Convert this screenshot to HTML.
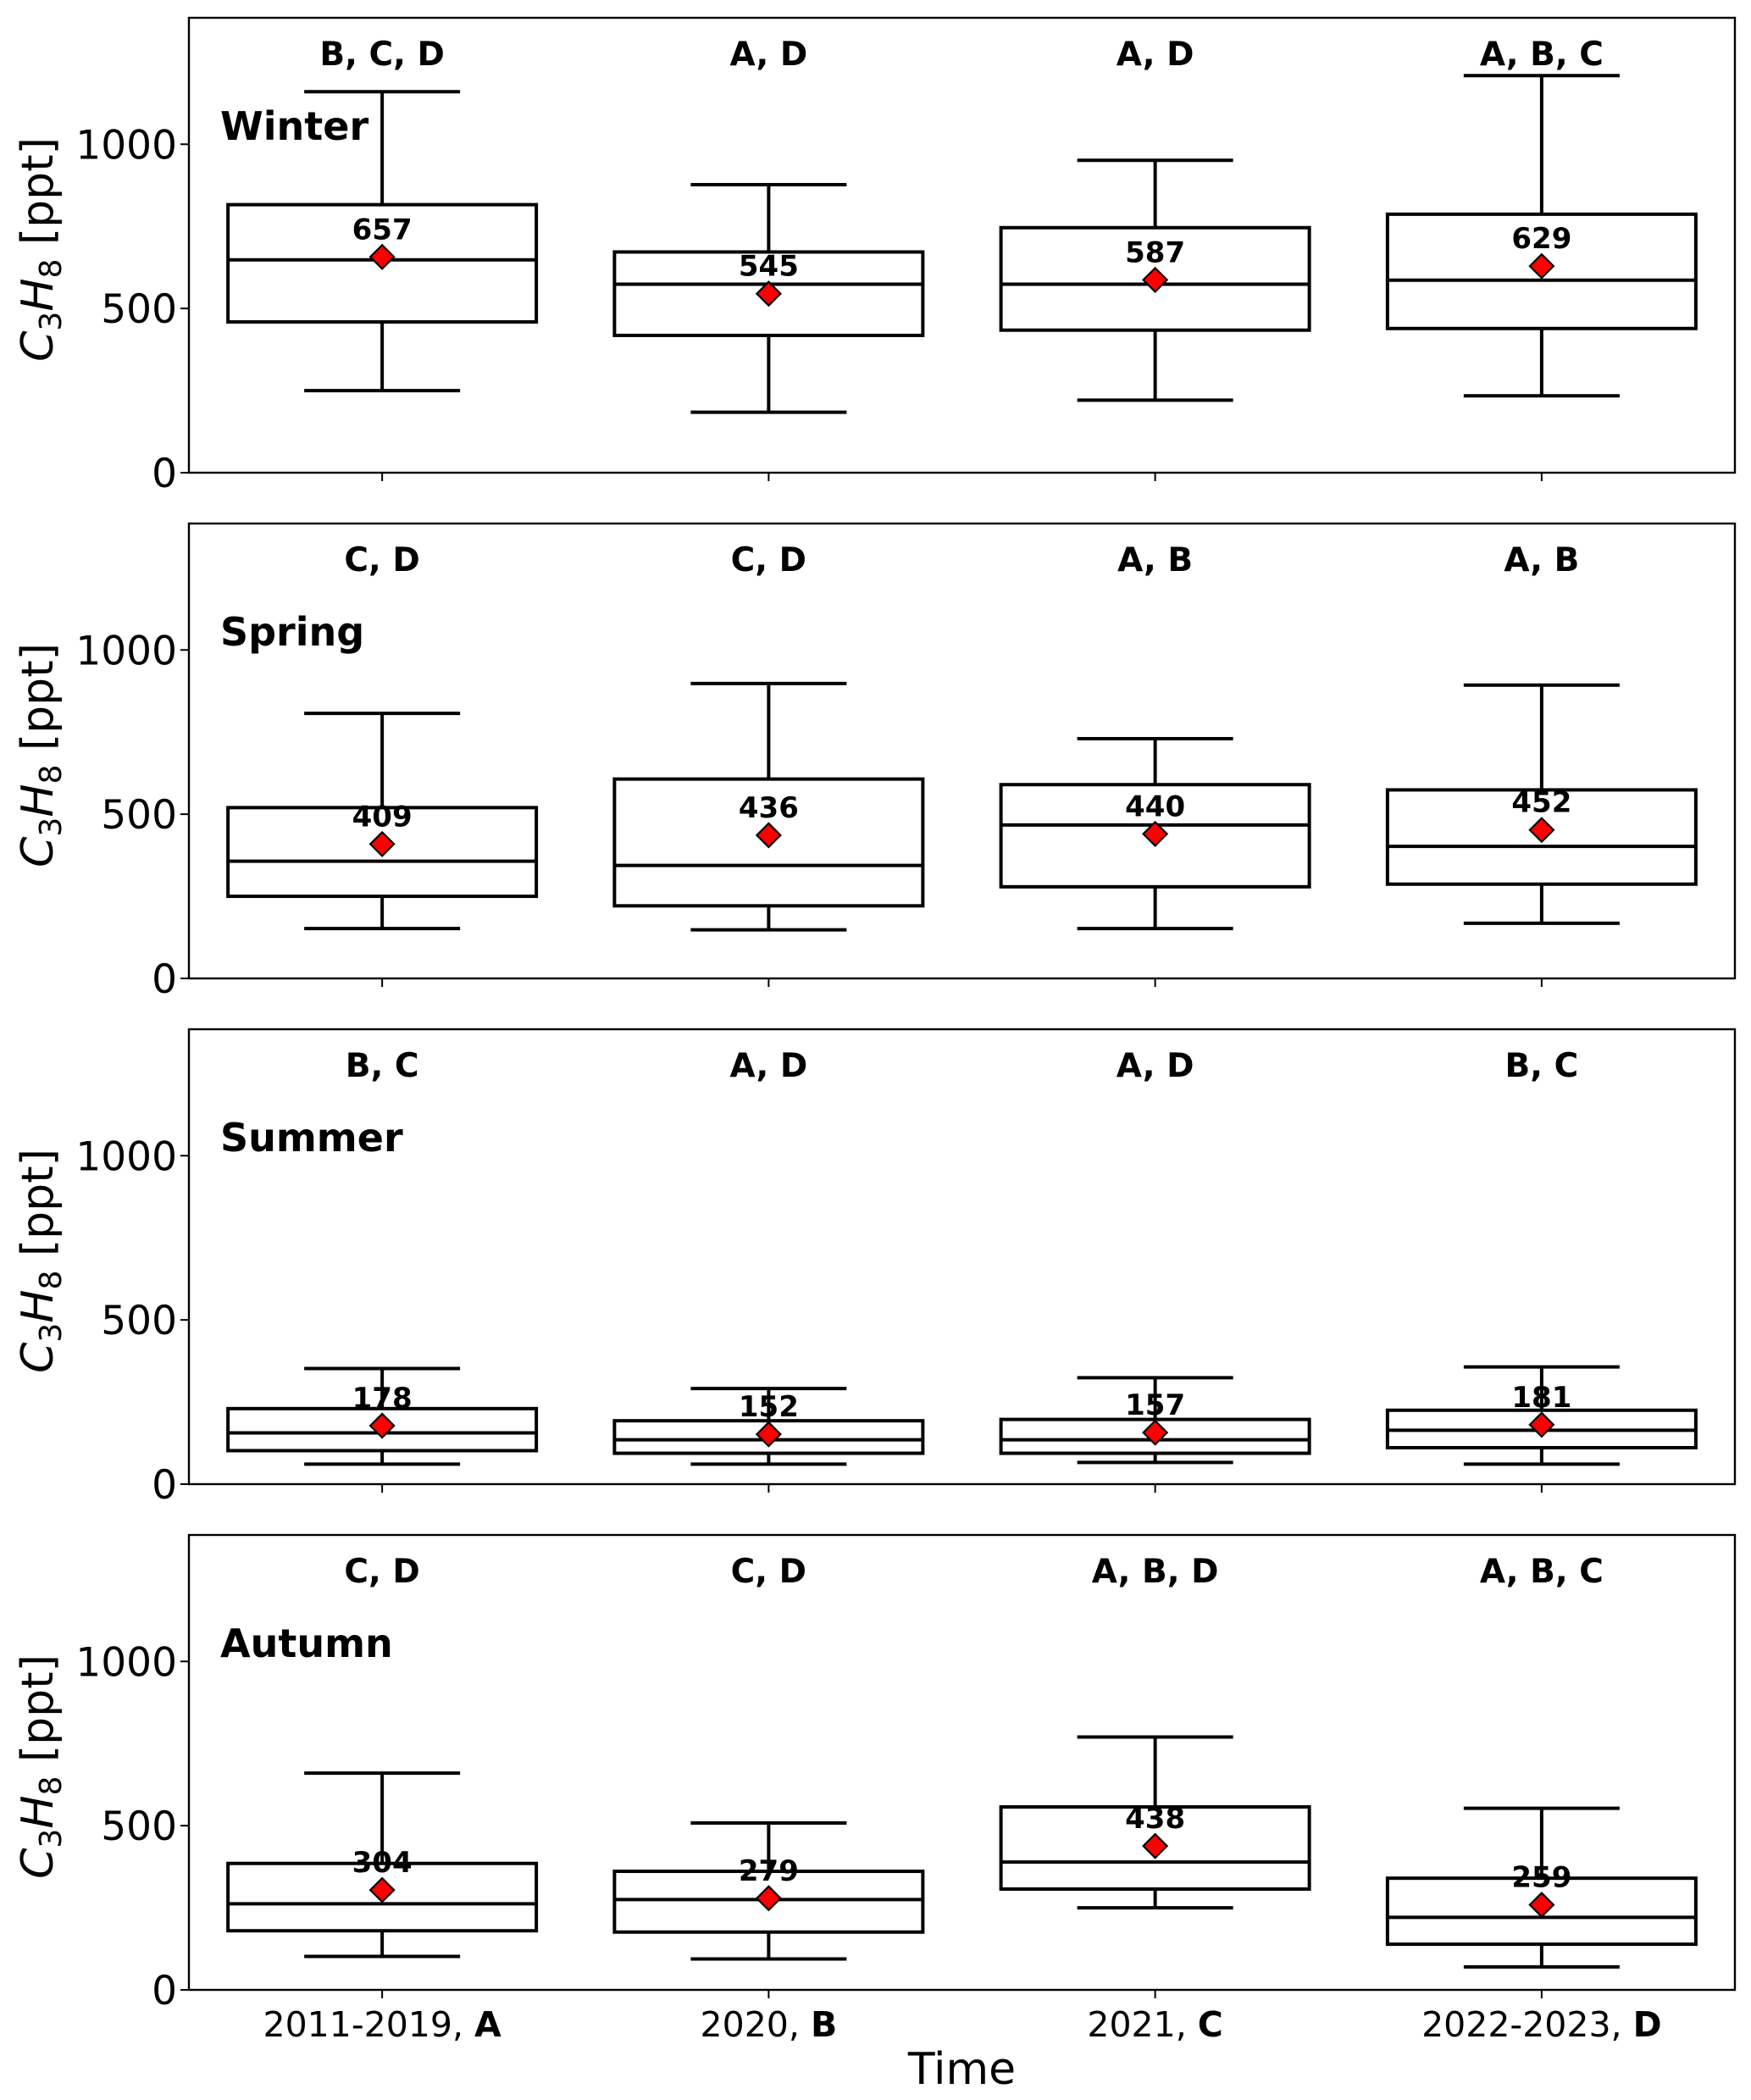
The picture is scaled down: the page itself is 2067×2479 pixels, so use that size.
<!DOCTYPE html>
<html><head><meta charset="utf-8"><style>
html,body{margin:0;padding:0;background:#fff;}
svg{display:block;font-family:"DejaVu Sans","Liberation Sans",sans-serif;}
</style></head><body>
<svg id="chart" width="2067" height="2479" viewBox="0 0 2067 2479" xmlns="http://www.w3.org/2000/svg"></svg>
<script>
const categories = ["2011-2019", "2020", "2021", "2022-2023"];
const catLetters = ["A", "B", "C", "D"];
const seasons = ["Winter", "Spring", "Summer", "Autumn"];
const yTicks = [0, 500, 1000];
const whiskerHigh = [[1160, 877, 951, 1209], [807, 898, 730, 893], [352, 291, 324, 357], [660, 508, 770, 553]];
const q3Values = [[816, 672, 746, 787], [520, 607, 590, 574], [230, 193, 197, 225], [385, 361, 557, 340]];
const medianValues = [[648, 574, 574, 586], [357, 344, 467, 402], [156, 135, 135, 164], [262, 275, 389, 221]];
const q1Values = [[459, 418, 434, 439], [250, 221, 279, 287], [102, 94, 94, 111], [180, 176, 307, 139]];
const whiskerLow = [[250, 184, 221, 234], [152, 148, 152, 168], [61, 61, 66, 61], [102, 94, 250, 70]];
const meanValues = [[657, 545, 587, 629], [409, 436, 440, 452], [178, 152, 157, 181], [304, 279, 438, 259]];
const sigLetters = [["B, C, D", "A, D", "A, D", "A, B, C"], ["C, D", "C, D", "A, B", "A, B"], ["B, C", "A, D", "A, D", "B, C"], ["C, D", "C, D", "A, B, D", "A, B, C"]];

const NS = "http://www.w3.org/2000/svg";
const svg = document.getElementById("chart");
const L = 223, R = 2048, PH = 537, tops = [21, 618, 1215, 1812];
const yMax = 1385;
const boxW = 364, capW = 184;
function xPos(i) { return L + (R - L) * (i + 0.5) / categories.length; }
function yPos(p, v) { return tops[p] + PH - v / yMax * PH; }
function el(tag, attrs, parent) {
  const e = document.createElementNS(NS, tag);
  for (const k in attrs) e.setAttribute(k, attrs[k]);
  (parent || svg).appendChild(e);
  return e;
}
seasons.forEach((s, p) => {
  const g = el("g", {});
  
  
  const frame = el("rect", {x: L, y: tops[p], width: R - L, height: PH, fill: "none", stroke: "#000", "stroke-width": 2.4}, g);
  
  
  yTicks.forEach(t => {
    const y = yPos(p, t);
    el("line", {x1: L - 10, x2: L, y1: y, y2: y, stroke: "#000", "stroke-width": 2}, g);
    const tx = el("text", {x: L - 14, y: y + 17, "text-anchor": "end", "font-size": 47}, g);
    tx.textContent = t;
    
    
  });
  const yl = el("text", {transform: `translate(62 ${tops[p] + PH / 2 + 5}) rotate(-90)`, "text-anchor": "middle", "font-size": 52}, g);
  yl.innerHTML = '<tspan font-style="italic">C</tspan><tspan font-size="36" dy="10">3</tspan><tspan font-style="italic" dy="-10">H</tspan><tspan font-size="36" dy="10">8</tspan><tspan dy="-10"> [ppt]</tspan>';
  
  
  const sl = el("text", {x: 260, y: tops[p] + 144, "font-size": 46, "font-weight": "bold"}, g);
  sl.textContent = s;
  
  
  categories.forEach((c, i) => {
    const x = xPos(i);
    const bg = el("g", {stroke: "#000", "stroke-width": 4, fill: "none"}, g);
    
    
    el("line", {x1: x, x2: x, y1: yPos(p, whiskerHigh[p][i]), y2: yPos(p, q3Values[p][i])}, bg);
    el("line", {x1: x, x2: x, y1: yPos(p, q1Values[p][i]), y2: yPos(p, whiskerLow[p][i])}, bg);
    el("line", {x1: x - capW / 2, x2: x + capW / 2, y1: yPos(p, whiskerHigh[p][i]), y2: yPos(p, whiskerHigh[p][i])}, bg);
    el("line", {x1: x - capW / 2, x2: x + capW / 2, y1: yPos(p, whiskerLow[p][i]), y2: yPos(p, whiskerLow[p][i])}, bg);
    el("rect", {x: x - boxW / 2, y: yPos(p, q3Values[p][i]), width: boxW, height: yPos(p, q1Values[p][i]) - yPos(p, q3Values[p][i])}, bg);
    el("line", {x1: x - boxW / 2, x2: x + boxW / 2, y1: yPos(p, medianValues[p][i]), y2: yPos(p, medianValues[p][i])}, bg);
    const my = yPos(p, meanValues[p][i]);
    const d = el("polygon", {points: `${x},${my - 14} ${x + 14},${my} ${x},${my + 14} ${x - 14},${my}`, fill: "#ff0000", stroke: "#000", "stroke-width": 2.2}, g);
    
    
    const ml = el("text", {x: x, y: my - 21, "text-anchor": "middle", "font-size": 34, "font-weight": "bold"}, g);
    ml.textContent = meanValues[p][i];
    
    
    const lt = el("text", {x: x, y: tops[p] + 56, "text-anchor": "middle", "font-size": 39, "font-weight": "bold"}, g);
    lt.textContent = sigLetters[p][i];
    
    
    el("line", {x1: x, x2: x, y1: tops[p] + PH, y2: tops[p] + PH + 10, stroke: "#000", "stroke-width": 2}, g);
    if (p === 3) {
      const xt = el("text", {x: x, y: tops[p] + PH + 55, "text-anchor": "middle", "font-size": 41}, g);
      xt.innerHTML = c + ', <tspan font-weight="bold">' + catLetters[i] + '</tspan>';
      
      
    }
  });
});
const xt = el("text", {x: (L + R) / 2, y: 2460, "text-anchor": "middle", "font-size": 52});
xt.textContent = "Time";


</script>
</body></html>
